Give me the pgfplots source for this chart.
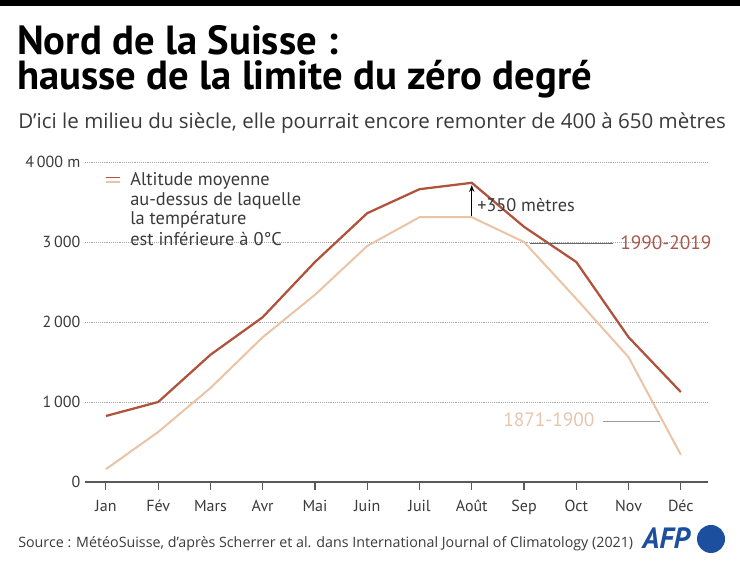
\documentclass[border=0pt]{standalone}
\usepackage{pgfplots}
\pgfplotsset{compat=1.18}
\usetikzlibrary{arrows.meta}
\usepackage{fontspec}
\setmainfont{PT Sans}
\newfontfamily\os{Open Sans}
\definecolor{dark}{HTML}{B0533C}
\definecolor{light}{HTML}{EBC3A5}
\definecolor{darklab}{HTML}{A8594C}
\definecolor{lightlab}{HTML}{E6C6AE}
\definecolor{txt}{HTML}{3A3A3A}
\definecolor{afp}{HTML}{1D4F9F}
\begin{document}
\begin{tikzpicture}
\path[use as bounding box] (0,0) rectangle (555pt,422.25pt);
\begin{axis}[
  at={(63.75pt,60.75pt)}, anchor=south west,
  scale only axis, width=467.25pt, height=240pt,
  xmin=-0.4, xmax=11.52, ymin=0, ymax=4000,
  axis x line*=bottom, axis y line*=left,
  y axis line style={draw=none},
  x axis line style={draw=black!65, line width=0.8pt},
  xtick={0,...,11},
  xticklabels={Jan,Fév,Mars,Avr,Mai,Juin,Juil,Août,Sep,Oct,Nov,Déc},
  ytick={0,1000,2000,3000,4000},
  yticklabels={0,1\,000,2\,000,3\,000,4\,000 m},
  ymajorgrids, grid style={densely dotted, black!35, line width=0.5pt},
  xtick style={draw=black!65, line width=0.8pt},
  major tick length=6pt, tick align=outside,
  ytick style={draw=none},
  tick label style={font=\fontsize{12}{14}\selectfont, text=txt},
  xticklabel style={yshift=-4pt},
  yticklabel style={xshift=6pt},
  clip=false,
]
\addplot[light, line width=1.5pt] coordinates {
(0,160)(1,625)(2,1175)(3,1810)(4,2340)(5,2950)(6,3310)(7,3310)(8,3000)(9,2290)(10,1560)(11,340)};
\addplot[dark, line width=1.7pt] coordinates {
(0,825)(1,1000)(2,1590)(3,2060)(4,2750)(5,3360)(6,3660)(7,3740)(8,3190)(9,2750)(10,1810)(11,1125)};
\draw[-{Stealth[length=5pt,width=4pt]}, line width=0.8pt] (axis cs:7,3320) -- (axis cs:7,3710);
\end{axis}
\begin{scope}[shift={(0,422.25pt)}, x=0.75pt, y=-0.75pt]
\fill[black] (0,0) rectangle (740,6);
\node[anchor=base west, inner sep=0, align=left, font=\bfseries\fontsize{30.5}{26.25}\selectfont, text=black] at (17,90) {Nord de la Suisse :\\hausse de la limite du zéro degré};
\node[anchor=base west, inner sep=0, font=\os\fontsize{15.4}{17}\selectfont, text=txt] at (18,129) {D’ici le milieu du siècle, elle pourrait encore remonter de 400 à 650 mètres};
% legend
\draw[dark, line width=1.3pt] (106,177.5) -- (120,177.5);
\draw[light, line width=1.3pt] (106,182) -- (120,182);
\node[anchor=base west, inner sep=0, align=left, font=\fontsize{13.8}{14.6}\selectfont, text=txt] at (130,186) {Altitude moyenne};
\node[anchor=base west, inner sep=0, font=\fontsize{13.8}{14.6}\selectfont, text=txt] at (130,205.5) {au-dessus de laquelle};
\node[anchor=base west, inner sep=0, font=\fontsize{13.8}{14.6}\selectfont, text=txt] at (130,225) {la température};
\node[anchor=base west, inner sep=0, font=\fontsize{13.8}{14.6}\selectfont, text=txt] at (130,246) {est inférieure à 0°C};
% annotations
\node[anchor=base west, inner sep=0, font=\fontsize{13.7}{14.6}\selectfont, text=txt] at (477,212) {+350 mètres};
\draw[black!60, line width=0.6pt] (530,243) -- (613,243);
\node[anchor=base west, inner sep=0, font=\fontsize{14.5}{16}\selectfont, text=darklab] at (620,250) {1990-2019};
\draw[black!40, line width=0.6pt] (603,421) -- (660,421);
\node[anchor=base west, inner sep=0, font=\fontsize{14.5}{16}\selectfont, text=lightlab] at (503,427) {1871-1900};
% source
\node[anchor=base west, inner sep=0, font=\os\fontsize{10.7}{13}\selectfont, text=txt] at (18,548) {Source : MétéoSuisse, d’après Scherrer et al. dans International Journal of Climatology (2021)};
\node[anchor=base west, inner sep=0, font=\bfseries\itshape\fontsize{22}{24}\selectfont, text=afp] at (642,549) {AFP};
\fill[afp] (711,539) circle (14);
\end{scope}
\end{tikzpicture}
\end{document}
